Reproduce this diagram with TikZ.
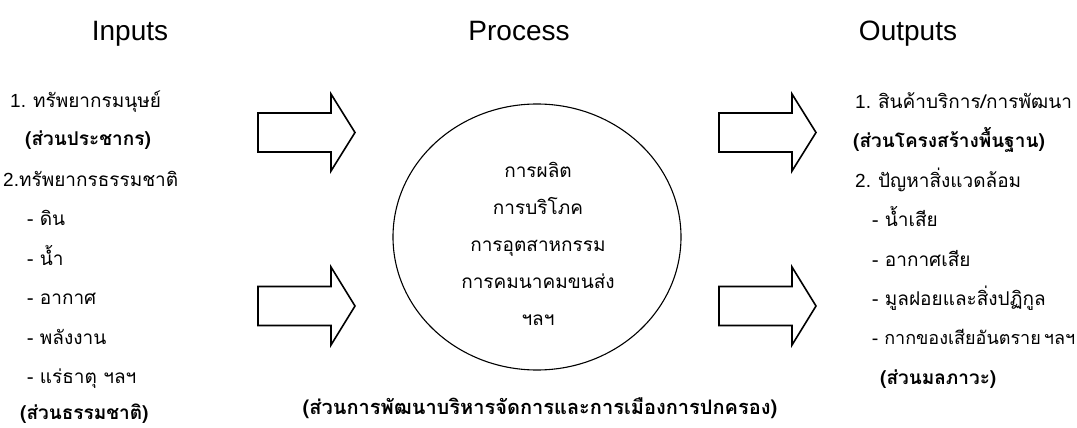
\documentclass[tikz,border=0pt]{standalone}
\usepackage{fontspec}
\setmainfont{Liberation Sans}
\newfontfamily\thaifont[Script=Thai]{Loma}
\usetikzlibrary{shapes.geometric}
\tikzset{
  ttl/.style={font=\fontsize{28}{32}\selectfont, inner sep=0, anchor=base},
  tx/.style={font=\thaifont\fontsize{19}{22}\selectfont, inner sep=0, anchor=base west},
  btx/.style={font=\thaifont\bfseries\fontsize{19}{22}\selectfont, inner sep=0, anchor=base west},
  ctx/.style={font=\thaifont\fontsize{19}{22}\selectfont, inner sep=0, anchor=base},
  cbtx/.style={font=\thaifont\bfseries\fontsize{20}{24}\selectfont, inner sep=0, anchor=base},
  blk/.style={draw=black, line width=1.6pt, line join=miter, fill=white},
  procshape/.style={draw=black, line width=1.1pt, ellipse, inner sep=0, minimum width=288pt, minimum height=266pt}
}
\newcommand{\ltn}[1]{{\fontspec{Liberation Sans}#1}}
\begin{document}
\begin{tikzpicture}[x=1pt,y=-1pt]
\useasboundingbox (0,0) rectangle (1077,428);
% titles
\node[ttl] (tin) at (130,41) {Inputs};
\node[ttl] (tpr) at (519,41) {Process};
\node[ttl] (tout) at (908,41) {Outputs};
% left column
\node[tx] (l0) at (10,107) {\ltn{1. }ทรัพยากรมนุษย์};
\node[btx] (l1) at (25,146) {(ส่วนประชากร)};
\node[tx] (l2) at (3,186) {\ltn{2.}ทรัพยากรธรรมชาติ};
\node[tx] (l3) at (27,225) {-\ ดิน};
\node[tx] (l4) at (27,265) {-\ น้ำ};
\node[tx] (l5) at (27,304) {-\ อากาศ};
\node[tx] (l6) at (27,344) {-\ พลังงาน};
\node[tx] (l7) at (27,383) {-\ แร่ธาตุ\ ฯลฯ};
\node[btx] (l8) at (20,419) {(ส่วนธรรมชาติ)};
% arrows
\draw[blk] (258,113) -- (331,113) -- (331,94) -- (355,132.5) -- (331,171) -- (331,152) -- (258,152) -- cycle;
\draw[blk] (258,286.5) -- (331,286.5) -- (331,267) -- (355,306) -- (331,345) -- (331,325.5) -- (258,325.5) -- cycle;
\draw[blk] (719,113) -- (792,113) -- (792,94) -- (816,132.5) -- (792,171) -- (792,152) -- (719,152) -- cycle;
\draw[blk] (719,286.5) -- (792,286.5) -- (792,267) -- (816,306) -- (792,345) -- (792,325.5) -- (719,325.5) -- cycle;
% process
\node[procshape] (proc) at (537,237) {};
\node[ctx] (p0) at (538,177) {การผลิต};
\node[ctx] (p1) at (538,214) {การบริโภค};
\node[ctx] (p2) at (538,251) {การอุตสาหกรรม};
\node[ctx] (p3) at (538,288) {การคมนาคมขนส่ง};
\node[ctx] (p4) at (538,325) {ฯลฯ};
\node[cbtx] (pb) at (540,414) {(ส่วนการพัฒนาบริหารจัดการและการเมืองการปกครอง)};
% right column
\node[tx] (r0) at (855,108) {\ltn{1. }สินค้าบริการ/การพัฒนา};
\node[btx] (r1) at (853,147) {(ส่วนโครงสร้างพื้นฐาน)};
\node[tx] (r2) at (855,187) {\ltn{2. }ปัญหาสิ่งแวดล้อม};
\node[tx] (r3) at (872,226) {-\ น้ำเสีย};
\node[tx] (r4) at (872,266) {-\ อากาศเสีย};
\node[tx] (r5) at (872,305) {-\ มูลฝอยและสิ่งปฏิกูล};
\node[tx, font=\thaifont\fontsize{18}{22}\selectfont] (r6) at (872,344) {-\ กากของเสียอันตราย\hspace{3pt}ฯลฯ};
\node[btx] (r7) at (880,384) {(ส่วนมลภาวะ)};
\end{tikzpicture}
\end{document}
